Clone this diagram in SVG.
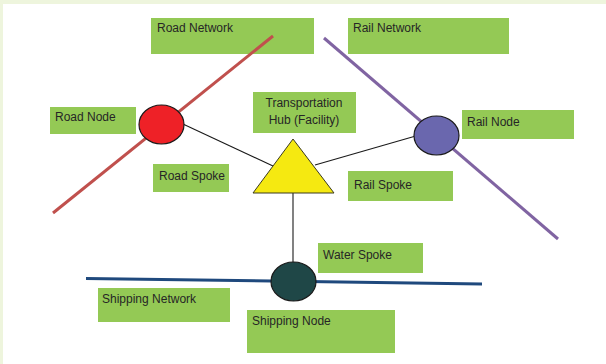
<svg xmlns="http://www.w3.org/2000/svg" width="606" height="364" viewBox="0 0 606 364">
  <style>
    .label { fill: #94C955; }
    .txt { font-family: "Liberation Sans", Arial, sans-serif; font-size: 12px; fill: #262626; }
    .spoke { stroke: #1A1A1A; stroke-width: 1.1; fill: none; }
    .node { stroke: #1A1A1A; stroke-width: 1.2; }
  </style>

  <!-- page background with light frame -->
  <rect x="0" y="0" width="606" height="364" fill="#EEF5DD"/>
  <rect x="3" y="4" width="603" height="360" fill="#FFFFFF"/>

  <!-- text labels -->
  <g id="label-road-network">
    <rect class="label" x="151" y="18" width="163" height="36"/>
    <text class="txt" x="157" y="32">Road Network</text>
  </g>
  <g id="label-rail-network">
    <rect class="label" x="348" y="18" width="161" height="36"/>
    <text class="txt" x="353" y="32">Rail Network</text>
  </g>
  <g id="label-road-node">
    <rect class="label" x="50" y="107" width="86" height="27"/>
    <text class="txt" x="55" y="121">Road Node</text>
  </g>
  <g id="label-rail-node">
    <rect class="label" x="462" y="110" width="112" height="29"/>
    <text class="txt" x="467" y="126">Rail Node</text>
  </g>
  <g id="label-hub">
    <rect class="label" x="253" y="92" width="103" height="41"/>
    <text class="txt" x="304" y="107" text-anchor="middle">Transportation</text>
    <text class="txt" x="304" y="124" text-anchor="middle">Hub (Facility)</text>
  </g>
  <g id="label-road-spoke">
    <rect class="label" x="153" y="164" width="76" height="28"/>
    <text class="txt" x="159" y="180">Road Spoke</text>
  </g>
  <g id="label-rail-spoke">
    <rect class="label" x="348" y="171" width="105" height="30"/>
    <text class="txt" x="354" y="189">Rail Spoke</text>
  </g>
  <g id="label-water-spoke">
    <rect class="label" x="318" y="243" width="105" height="30"/>
    <text class="txt" x="323" y="259">Water Spoke</text>
  </g>
  <g id="label-shipping-network">
    <rect class="label" x="98" y="288" width="132" height="34"/>
    <text class="txt" x="102" y="303">Shipping Network</text>
  </g>
  <g id="label-shipping-node">
    <rect class="label" x="247" y="310" width="148" height="43"/>
    <text class="txt" x="252" y="325">Shipping Node</text>
  </g>

  <!-- network lines and spokes -->
  <g id="connectors">
    <line id="road-network-line" x1="53" y1="213" x2="273" y2="36" stroke="#C0504D" stroke-width="3"/>
    <line id="rail-network-line" x1="324" y1="38" x2="558" y2="239" stroke="#8064A2" stroke-width="3"/>
    <line id="shipping-network-line" x1="86" y1="278.5" x2="482" y2="284" stroke="#1F497D" stroke-width="3"/>
    <line id="road-spoke" class="spoke" x1="184" y1="124.5" x2="273" y2="166"/>
    <line id="rail-spoke" class="spoke" x1="315" y1="165" x2="414" y2="136.5"/>
    <line id="water-spoke" class="spoke" x1="293" y1="193" x2="293" y2="262"/>
  </g>

  <!-- nodes -->
  <g id="road-node">
    <ellipse class="node" cx="161.5" cy="124.5" rx="22.5" ry="19.5" fill="#EE2127"/>
  </g>
  <g id="rail-node">
    <ellipse class="node" cx="436.5" cy="135.5" rx="22.5" ry="19.5" fill="#6A67AE"/>
  </g>
  <g id="shipping-node">
    <ellipse class="node" cx="293.5" cy="281.5" rx="22.5" ry="19.5" fill="#1F4747"/>
  </g>
  <g id="hub">
    <polygon points="293,139 334,193 253,193" fill="#F5E911" stroke="#3A3A20" stroke-width="1"/>
  </g>
</svg>
